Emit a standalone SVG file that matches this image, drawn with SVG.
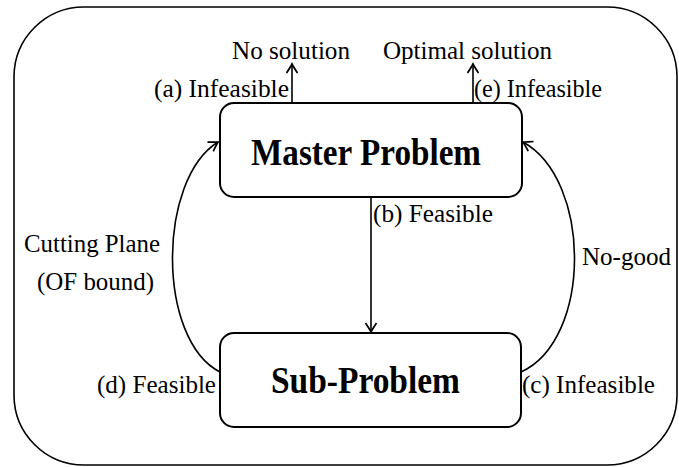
<svg xmlns="http://www.w3.org/2000/svg" width="679" height="467" viewBox="0 0 679 467" font-family="Liberation Serif, serif">
<style>
.lbl{font-size:25px;fill:#000}
.title{font-size:38px;font-weight:bold;fill:#000}
.box{fill:#fff;stroke:#000;stroke-width:2}
.edge{fill:none;stroke:#000;stroke-width:1.6}
</style>
<defs>
<marker id="arr" markerUnits="userSpaceOnUse" markerWidth="14" markerHeight="14" viewBox="-10 -7 12 14" refX="0" refY="0" orient="auto">
<path d="M-9,-5.5 Q-3,-1.5 0,0 Q-3,1.5 -9,5.5" fill="none" stroke="#000" stroke-width="1.7"/>
</marker>
</defs>
<rect x="14" y="7" width="663" height="458" rx="70" ry="70" fill="#fff" stroke="#000" stroke-width="1.6"/>
<g id="connectors">
<path class="edge" d="M292,103 L292,64" marker-end="url(#arr)"/>
<path class="edge" d="M473,103 L473,64" marker-end="url(#arr)"/>
<path class="edge" d="M371,197 L371,332" marker-end="url(#arr)"/>
<path class="edge" d="M220,372 C157,340 157,180 218,142" marker-end="url(#arr)"/>
<path class="edge" d="M521,372 C592,340 592,180 523,142" marker-end="url(#arr)"/>
<text class="lbl" x="154" y="97" textLength="135" lengthAdjust="spacingAndGlyphs">(a) Infeasible</text>
<text class="lbl" x="474" y="97" textLength="128" lengthAdjust="spacingAndGlyphs">(e) Infeasible</text>
<text class="lbl" x="373" y="222" textLength="120" lengthAdjust="spacingAndGlyphs">(b) Feasible</text>
<text class="lbl" x="24" y="252" textLength="136" lengthAdjust="spacingAndGlyphs">Cutting Plane</text>
<text class="lbl" x="37" y="290" textLength="117" lengthAdjust="spacingAndGlyphs">(OF bound)</text>
<text class="lbl" x="582" y="265" textLength="89" lengthAdjust="spacingAndGlyphs">No-good</text>
<text class="lbl" x="97" y="393" textLength="119" lengthAdjust="spacingAndGlyphs">(d) Feasible</text>
<text class="lbl" x="522" y="393" textLength="133" lengthAdjust="spacingAndGlyphs">(c) Infeasible</text>
</g>
<g id="no-solution">
<text class="lbl" x="232" y="59" textLength="118" lengthAdjust="spacingAndGlyphs">No solution</text>
</g>
<g id="optimal-solution">
<text class="lbl" x="383" y="59" textLength="169" lengthAdjust="spacingAndGlyphs">Optimal solution</text>
</g>
<g id="master">
<rect class="box" x="220" y="103" width="302" height="94" rx="14" ry="14"/>
<text class="title" x="251" y="165" textLength="230" lengthAdjust="spacingAndGlyphs">Master Problem</text>
</g>
<g id="sub">
<rect class="box" x="220" y="333" width="301" height="94" rx="14" ry="14"/>
<text class="title" x="271" y="393" textLength="189" lengthAdjust="spacingAndGlyphs">Sub-Problem</text>
</g>
</svg>
